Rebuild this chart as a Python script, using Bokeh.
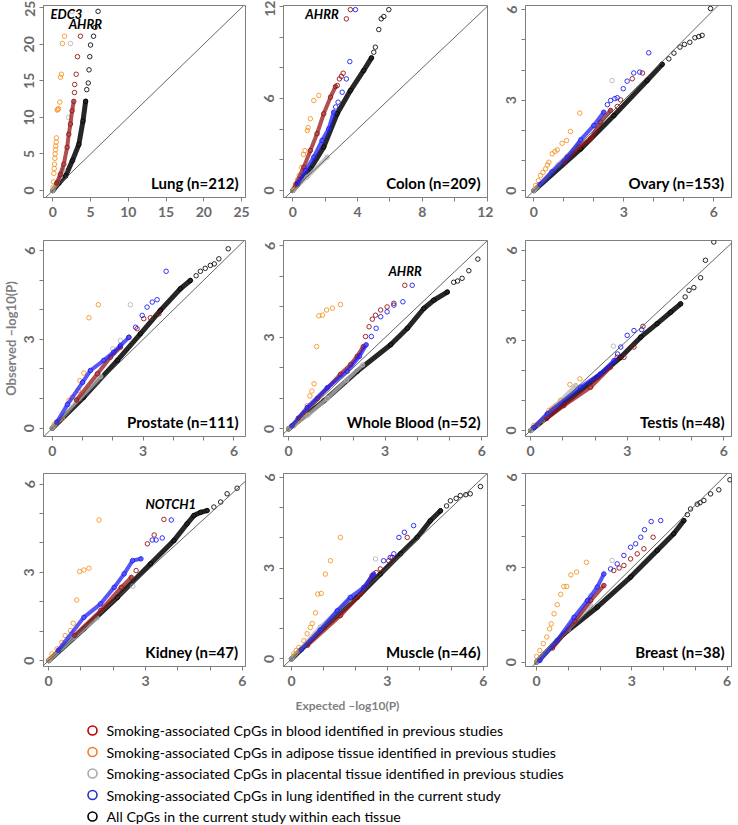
import math
from bokeh.plotting import figure
from bokeh.layouts import column, row
from bokeh.models import Range1d, FixedTicker, Label, Slope
from bokeh.embed import file_html
from bokeh.resources import INLINE
from bokeh.core.properties import value

# ---------------- data: (expected -log10 P, observed -log10 P) ----------------
# Lung
LUNG_BLACK_BAND = [(0, 0), (0.8, 1.0), (1.7, 2.0), (2.6, 4.1), (3.45, 6.3), (4.0, 9.5), (4.35, 12.2)]
LUNG_BLACK_PTS = [(4.5, 13.8), (4.7, 14.7), (4.8, 16.5), (4.9, 18.3), (5.0, 19.9), (5.4, 21.1), (5.6, 22.3), (6.0, 24.5)]
LUNG_GRAY_BAND = [(0, 0), (0.5, 0.9), (1.0, 1.9), (1.4, 2.8)]
LUNG_GRAY_PTS = [(2.1, 10.0), (2.34, 20.1), (2.56, 24.5)]
LUNG_ORANGE_PTS = [(0.05, 0.45), (0.1, 1.2), (0.14, 2.35), (0.2, 3.0), (0.23, 3.6), (0.28, 4.4), (0.31, 5.0),
                   (0.36, 5.6), (0.4, 6.1), (0.45, 6.6), (0.49, 7.2), (0.58, 11.0), (0.66, 11.1), (0.76, 11.2),
                   (0.93, 12.1), (1.02, 15.5), (1.15, 15.9), (1.28, 20.1), (1.55, 21.1)]
LUNG_RED_BAND = [(0.5, 1.0), (1.0, 2.2), (1.46, 3.6), (1.9, 5.9), (2.12, 7.7), (2.34, 9.1), (2.56, 10.9), (2.78, 12.2)]
LUNG_RED_PTS = [(2.87, 13.4), (2.9, 14.5), (3.1, 15.9), (3.27, 18.3), (3.66, 21.1)]
LUNG_BLUE_BAND = []
LUNG_BLUE_PTS = []

# Colon
COLON_BLACK_BAND = [(0, 0), (0.27, 0.33), (1.09, 1.41), (1.91, 2.83), (2.74, 5.0), (3.56, 6.52), (4.38, 7.83), (4.86, 8.65)]
COLON_BLACK_PTS = [(5.0, 9.02), (5.1, 9.35), (5.31, 10.5), (5.46, 11.2), (5.62, 11.35), (5.93, 11.8)]
COLON_GRAY_BAND = [(0, 0), (0.88, 0.87), (2.12, 2.17)]
COLON_GRAY_PTS = []
COLON_ORANGE_PTS = [(0.1, 0.2), (0.2, 0.43), (0.3, 0.7), (0.4, 0.98), (0.55, 1.5), (0.66, 2.35), (0.75, 2.6),
                    (0.9, 3.91), (0.95, 4.1), (1.09, 4.68), (1.3, 5.87), (1.61, 6.2)]
COLON_RED_BAND = [(0.2, 0.4), (0.68, 1.52), (1.09, 2.61), (1.5, 3.7), (1.91, 5.0), (2.33, 6.09), (2.64, 6.78)]
COLON_RED_PTS = [(2.75, 6.85), (2.88, 7.28), (3.0, 7.45), (3.11, 7.65), (3.31, 11.2), (3.56, 11.8)]
COLON_BLUE_BAND = [(0.3, 0.45), (0.8, 1.3), (1.3, 2.17), (1.81, 3.26), (2.22, 4.02), (2.53, 5.11)]
COLON_BLUE_PTS = [(2.65, 5.45), (2.8, 5.76), (3.05, 6.41), (3.31, 7.28), (3.52, 8.41), (3.87, 11.8)]

# Ovary
OVARY_BLACK_BAND = [(0, 0), (1.56, 1.38), (2.67, 2.49), (3.78, 3.65), (4.28, 4.19)]
OVARY_BLACK_PTS = [(4.5, 4.37), (4.67, 4.56), (4.87, 4.76), (5.02, 4.85), (5.2, 4.92), (5.37, 5.07), (5.5, 5.11),
                   (5.61, 5.15), (5.89, 6.04)]
OVARY_GRAY_BAND = [(0, 0), (0.8, 0.85), (1.5, 1.55)]
OVARY_GRAY_PTS = [(2.61, 3.65)]
OVARY_ORANGE_PTS = [(0.06, 0.17), (0.15, 0.33), (0.22, 0.5), (0.3, 0.6), (0.39, 0.72), (0.45, 0.85), (0.5, 0.94),
                    (0.61, 1.22), (0.7, 1.3), (0.78, 1.35), (0.94, 1.57), (1.09, 1.66), (1.22, 1.96), (1.53, 2.57)]
OVARY_RED_BAND = [(1.0, 0.95), (1.5, 1.45), (1.89, 1.72), (2.22, 2.27), (2.56, 2.66)]
OVARY_RED_PTS = [(2.78, 2.79), (2.89, 3.01), (3.28, 3.71), (3.62, 3.9)]
OVARY_BLUE_BAND = [(0.2, 0.2), (0.6, 0.62), (1.11, 1.11), (1.56, 1.68), (2.0, 2.16), (2.33, 2.6)]
OVARY_BLUE_PTS = [(2.45, 2.85), (2.56, 2.99), (2.7, 3.05), (2.78, 3.08), (2.98, 3.38), (3.11, 3.63), (3.33, 3.9),
                  (3.53, 3.93), (3.83, 4.57)]

# Prostate
PROSTATE_BLACK_BAND = [(0, 0), (1.04, 1.05), (2.15, 2.29), (2.91, 3.19), (3.57, 3.98), (4.23, 4.71), (4.56, 4.99)]
PROSTATE_BLACK_PTS = [(4.75, 5.15), (4.89, 5.3), (5.05, 5.4), (5.22, 5.5), (5.35, 5.55), (5.5, 5.72), (5.81, 6.06)]
PROSTATE_GRAY_BAND = [(0, 0), (0.9, 1.0), (1.6, 1.75)]
PROSTATE_GRAY_PTS = [(2.0, 2.68), (2.25, 2.96), (2.58, 4.17)]
PROSTATE_ORANGE_PTS = [(0.06, 0.13), (0.15, 0.22), (0.33, 0.32), (0.55, 0.94), (0.66, 1.05), (0.86, 1.27),
                       (0.91, 1.61), (1.04, 1.86), (1.21, 3.73), (1.52, 4.17)]
PROSTATE_RED_BAND = [(0.8, 0.95), (1.49, 1.84), (1.92, 2.4), (2.25, 2.74)]
PROSTATE_RED_PTS = [(2.53, 3.07), (2.8, 3.36), (3.02, 3.7), (3.24, 3.73), (3.52, 3.86)]
PROSTATE_BLUE_BAND = [(0.15, 0.2), (0.5, 0.8), (1.0, 1.55), (1.26, 1.95), (1.7, 2.29), (2.03, 2.57), (2.25, 2.79),
                      (2.53, 3.07)]
PROSTATE_BLUE_PTS = [(2.75, 3.41), (2.97, 3.81), (3.13, 4.09), (3.3, 4.26), (3.46, 4.34), (3.76, 5.3)]

# Whole Blood
BLOOD_BLACK_BAND = [(0, 0), (1.1, 0.92), (2.13, 1.89), (3.17, 2.76), (3.69, 3.3), (4.2, 3.95), (4.51, 4.22), (4.93, 4.49)]
BLOOD_BLACK_PTS = [(5.13, 4.81), (5.25, 4.85), (5.39, 4.94), (5.6, 5.19), (5.88, 5.57)]
BLOOD_GRAY_BAND = [(0, 0), (0.6, 0.45), (1.2, 1.0), (1.8, 1.6), (2.3, 2.1)]
BLOOD_GRAY_PTS = []
BLOOD_ORANGE_PTS = [(0.17, 0.11), (0.32, 0.32), (0.48, 0.51), (0.58, 0.76), (0.66, 1.08), (0.72, 1.24), (0.79, 1.48),
                    (0.87, 2.7), (0.94, 3.71), (1.05, 3.73), (1.18, 3.9), (1.36, 3.96), (1.61, 4.08)]
BLOOD_RED_BAND = [(0.3, 0.35), (0.9, 1.0), (1.61, 1.79), (1.93, 2.11), (2.13, 2.38), (2.32, 2.7)]
BLOOD_RED_PTS = [(2.39, 3.03), (2.5, 3.35), (2.6, 3.6), (2.7, 3.73), (2.86, 3.9), (3.06, 4.0), (3.27, 4.12), (3.61, 4.71)]
BLOOD_BLUE_BAND = [(0.1, 0.1), (0.58, 0.7), (1.2, 1.35), (1.82, 1.89), (2.2, 2.38), (2.41, 2.76)]
BLOOD_BLUE_PTS = [(2.57, 3.03), (2.72, 3.3), (2.86, 3.68), (3.06, 3.84), (3.27, 4.06), (3.55, 4.17), (3.84, 4.71)]

# Testis
TESTIS_BLACK_BAND = [(0, 0), (1.03, 0.89), (2.07, 1.78), (2.8, 2.44), (3.42, 3.11), (3.93, 3.56), (4.35, 3.94), (4.66, 4.22)]
TESTIS_BLACK_PTS = [(4.8, 4.45), (4.92, 4.67), (5.07, 4.76), (5.28, 5.09), (5.43, 5.67), (5.69, 6.28)]
TESTIS_GRAY_BAND = [(0, 0), (0.8, 0.85), (1.4, 1.5)]
TESTIS_GRAY_PTS = [(2.57, 2.81)]
TESTIS_ORANGE_PTS = [(0.1, 0.17), (0.2, 0.2), (0.36, 0.33), (0.5, 0.5), (0.57, 0.67), (0.65, 0.72), (0.72, 0.78),
                     (0.93, 1.0), (1.22, 1.53), (1.53, 1.72)]
TESTIS_RED_BAND = [(0.5, 0.4), (1.03, 0.83), (1.86, 1.44), (2.48, 2.11)]
TESTIS_RED_PTS = [(2.69, 2.44), (2.9, 2.44), (3.21, 2.78), (3.49, 3.47)]
TESTIS_BLUE_BAND = [(0.1, 0.1), (0.52, 0.56), (1.55, 1.44), (2.17, 1.89), (2.59, 2.33)]
TESTIS_BLUE_PTS = [(2.7, 2.55), (2.8, 2.78), (3.0, 3.17), (3.21, 3.33), (3.45, 3.36)]

# Kidney
KIDNEY_BLACK_BAND = [(0, 0), (1.09, 1.08), (2.13, 2.15), (3.16, 3.29), (3.88, 4.08), (4.29, 4.65), (4.5, 4.93),
                     (4.71, 5.04), (4.91, 5.1)]
KIDNEY_BLACK_PTS = [(5.12, 5.22), (5.33, 5.39), (5.53, 5.67), (5.84, 5.86)]
KIDNEY_GRAY_BAND = [(0, 0), (0.8, 0.8), (1.5, 1.45)]
KIDNEY_GRAY_PTS = [(2.61, 2.53)]
KIDNEY_ORANGE_PTS = [(0.03, 0.05), (0.1, 0.23), (0.26, 0.4), (0.41, 0.62), (0.51, 0.85), (0.68, 1.02), (0.76, 1.27),
                     (0.87, 2.06), (0.96, 3.03), (1.09, 3.08), (1.25, 3.14), (1.56, 4.78)]
KIDNEY_RED_BAND = [(0.8, 0.85), (1.61, 1.7), (2.25, 2.49), (2.56, 2.83)]
KIDNEY_RED_PTS = [(2.71, 3.06), (3.06, 3.97), (3.27, 4.27), (3.57, 4.8)]
KIDNEY_BLUE_BAND = [(0.3, 0.35), (1.09, 1.47), (1.61, 1.93), (2.03, 2.49), (2.34, 2.95), (2.6, 3.4), (2.86, 3.46)]
KIDNEY_BLUE_PTS = [(3.21, 4.1), (3.33, 4.1), (3.52, 4.17), (3.8, 4.78)]

# Muscle
MUSCLE_BLACK_BAND = [(0, 0), (1.01, 1.04), (2.05, 2.03), (2.78, 2.8), (3.41, 3.47), (3.93, 4.01), (4.34, 4.56), (4.66, 4.89)]
MUSCLE_BLACK_PTS = [(4.85, 5.05), (4.97, 5.22), (5.15, 5.3), (5.28, 5.39), (5.45, 5.42), (5.59, 5.45), (5.91, 5.69)]
MUSCLE_GRAY_BAND = [(0, 0), (0.9, 1.05), (1.8, 1.95)]
MUSCLE_GRAY_PTS = [(2.63, 3.3)]
MUSCLE_ORANGE_PTS = [(0.07, 0.17), (0.15, 0.28), (0.23, 0.38), (0.39, 0.6), (0.49, 0.83), (0.59, 1.04), (0.65, 1.17),
                     (0.75, 1.52), (0.82, 2.14), (0.93, 2.16), (1.06, 2.8), (1.22, 3.24), (1.53, 4.01)]
MUSCLE_RED_BAND = [(0.5, 0.45), (1.53, 1.43), (2.16, 2.14), (2.52, 2.75)]
MUSCLE_RED_PTS = [(2.65, 2.85), (2.78, 2.97), (3.04, 3.24), (3.15, 3.35), (3.62, 4.01)]
MUSCLE_BLUE_BAND = [(0.3, 0.3), (0.9, 0.95), (1.43, 1.59), (1.84, 2.03), (2.26, 2.36), (2.57, 2.8)]
MUSCLE_BLUE_PTS = [(2.88, 3.24), (3.09, 3.35), (3.2, 3.47), (3.36, 4.01), (3.53, 4.18), (3.82, 4.4)]

# Breast
BREAST_BLACK_BAND = [(0, 0), (0.86, 0.9), (1.91, 1.75), (2.96, 2.71), (3.8, 3.56), (4.32, 4.09), (4.64, 4.51)]
BREAST_BLACK_PTS = [(4.75, 4.7), (4.85, 4.88), (5.06, 5.03), (5.15, 5.08), (5.27, 5.15), (5.48, 5.36), (5.74, 5.49),
                    (6.09, 5.81)]
BREAST_GRAY_BAND = [(0, 0), (1.0, 1.05), (1.7, 1.8)]
BREAST_GRAY_PTS = [(1.7, 2.12), (2.38, 3.24)]
BREAST_ORANGE_PTS = [(0.0, 0.18), (0.1, 0.37), (0.21, 0.59), (0.32, 0.8), (0.41, 1.06), (0.46, 1.22), (0.55, 1.54),
                     (0.65, 1.83), (0.76, 2.16), (0.86, 2.41), (0.95, 2.41), (1.08, 2.78), (1.26, 2.87), (1.57, 3.18)]
BREAST_RED_BAND = [(0.5, 0.45), (1.2, 1.3), (1.7, 1.96), (2.12, 2.44)]
BREAST_RED_PTS = [(2.43, 2.92), (2.6, 3.0), (2.75, 3.08), (2.96, 3.29), (3.17, 3.45), (3.38, 3.61), (3.67, 3.98)]
BREAST_BLUE_BAND = [(0.1, 0.05), (0.65, 0.69), (1.18, 1.43), (1.6, 1.96), (1.91, 2.39), (2.12, 2.81)]
BREAST_BLUE_PTS = [(2.33, 2.97), (2.54, 3.13), (2.75, 3.4), (2.96, 3.66), (3.12, 3.77), (3.28, 3.98), (3.4, 4.22),
                   (3.61, 4.48), (3.91, 4.51)]

PANEL_TITLES = ["Lung (n=212)", "Colon (n=209)", "Ovary (n=153)",
                "Prostate (n=111)", "Whole Blood (n=52)", "Testis (n=48)",
                "Kidney (n=47)", "Muscle (n=46)", "Breast (n=38)"]

LUNG_TICKS = [0, 5, 10, 15, 20, 25]
COLON_TICKS = [0, 2, 4, 6, 8, 10, 12]
COLON_X_LABELED = [0, 4, 8, 12]
COLON_Y_LABELED = [0, 6, 12]
STD_TICKS = [0, 1, 2, 3, 4, 5, 6]
STD_LABELED = [0, 3, 6]

GENE_LABELS_LUNG = [("EDC3", -0.3, 24.2), ("AHRR", 2.1, 22.8)]
GENE_LABELS_COLON = [("AHRR", 0.78, 11.5)]
GENE_LABELS_BLOOD = [("AHRR", 3.1, 5.17)]
GENE_LABELS_KIDNEY = [("NOTCH1", 3.0, 5.34)]

LEGEND_LABELS = ["Smoking-associated CpGs in blood identified in previous studies",
                 "Smoking-associated CpGs in adipose tissue identified in previous studies",
                 "Smoking-associated CpGs in placental tissue identified in previous studies",
                 "Smoking-associated CpGs in lung identified in the current study",
                 "All CpGs in the current study within each tissue"]
LEGEND_COLORS = ["#C00000", "#F07D2A", "#ABABAB", "#2233CC", "#000000"]

X_TITLE = "Expected \u2013log10(P)"
Y_TITLE = "Observed \u2013log10(P)"

# ---------------- style / layout ----------------
C_BLACK = "#000000"
C_GRAY = "#B4B4B4"
C_ORANGE = "#F5901E"
C_RED = "#951515"
C_BLUE = "#1F1FF5"
AX_COL = "#7F7F7F"
LBL_COL = "#6A6A6A"
FONT = "Lato"

STRIP_W = 18
COL_LEFT = [25, 32, 32]
COL_FRAME_W = [202, 204, 206]
RIGHT_B = 6
ROW_TOP = [5, 0, 0]
ROW_FRAME_H = [192, 196, 193]
ROW_BOTTOM = [43, 37, 27]


def series(prefix):
    g = globals()
    return dict(
        black=(g[prefix + "_BLACK_BAND"], g[prefix + "_BLACK_PTS"]),
        gray=(g[prefix + "_GRAY_BAND"], g[prefix + "_GRAY_PTS"]),
        orange=([], g[prefix + "_ORANGE_PTS"]),
        red=(g[prefix + "_RED_BAND"], g[prefix + "_RED_PTS"]),
        blue=(g[prefix + "_BLUE_BAND"], g[prefix + "_BLUE_PTS"]),
    )


PANELS = [
    dict(pre="LUNG", xr=(-1.23, 25.53), yr=(-0.95, 25.3), xt=LUNG_TICKS, xl=LUNG_TICKS, yt=LUNG_TICKS, yl=LUNG_TICKS, genes=GENE_LABELS_LUNG),
    dict(pre="COLON", xr=(-0.57, 12.02), yr=(-0.46, 12.07), xt=COLON_TICKS, xl=COLON_X_LABELED, yt=COLON_TICKS, yl=COLON_Y_LABELED, genes=GENE_LABELS_COLON),
    dict(pre="OVARY", xr=(-0.28, 6.59), yr=(-0.23, 6.14), xt=STD_TICKS, xl=STD_LABELED, yt=STD_TICKS, yl=STD_LABELED, genes=[]),
    dict(pre="PROSTATE", xr=(-0.29, 6.38), yr=(-0.28, 6.34), xt=STD_TICKS, xl=STD_LABELED, yt=STD_TICKS, yl=STD_LABELED, genes=[]),
    dict(pre="BLOOD", xr=(-0.16, 6.18), yr=(-0.25, 6.18), xt=STD_TICKS, xl=STD_LABELED, yt=STD_TICKS, yl=STD_LABELED, genes=GENE_LABELS_BLOOD),
    dict(pre="TESTIS", xr=(-0.16, 6.24), yr=(-0.2, 6.33), xt=STD_TICKS, xl=STD_LABELED, yt=STD_TICKS, yl=STD_LABELED, genes=[]),
    dict(pre="KIDNEY", xr=(-0.16, 6.1), yr=(-0.2, 6.36), xt=STD_TICKS, xl=STD_LABELED, yt=STD_TICKS, yl=STD_LABELED, genes=GENE_LABELS_KIDNEY),
    dict(pre="MUSCLE", xr=(-0.25, 6.13), yr=(-0.25, 6.12), xt=STD_TICKS, xl=STD_LABELED, yt=STD_TICKS, yl=STD_LABELED, genes=[]),
    dict(pre="BREAST", xr=(-0.35, 6.14), yr=(-0.14, 6.01), xt=STD_TICKS, xl=STD_LABELED, yt=STD_TICKS, yl=STD_LABELED, genes=[]),
]

# colour, band line width, band alpha, marker alpha
STYLE = dict(
    black=(C_BLACK, 5.0, 0.85, 0.85),
    gray=(C_GRAY, 4.0, 0.75, 0.85),
    orange=(C_ORANGE, 0, 0.0, 0.85),
    red=(C_RED, 4.0, 0.75, 0.9),
    blue=(C_BLUE, 4.0, 0.75, 0.9),
)


def style_axis(ax, ticks, labeled):
    ax.ticker = FixedTicker(ticks=ticks)
    ax.major_label_overrides = {t: "" for t in ticks if t not in labeled}
    ax.axis_line_color = AX_COL
    ax.major_tick_line_color = AX_COL
    ax.major_tick_out = 4
    ax.major_tick_in = 0
    ax.minor_tick_line_color = None
    ax.major_label_text_font = FONT
    ax.major_label_text_font_size = "14px"
    ax.major_label_text_font_style = "bold"
    ax.major_label_text_color = LBL_COL
    ax.major_label_standoff = 5


def make_panel(i):
    spec = PANELS[i]
    col, rw = i % 3, i // 3
    left, fw = COL_LEFT[col], COL_FRAME_W[col]
    top, fh, bottom = ROW_TOP[rw], ROW_FRAME_H[rw], ROW_BOTTOM[rw]
    p = figure(width=left + fw + RIGHT_B, height=top + fh + bottom,
               x_range=Range1d(*spec["xr"]), y_range=Range1d(*spec["yr"]),
               output_backend="svg", toolbar_location=None,
               min_border_left=left, min_border_right=RIGHT_B,
               min_border_top=top, min_border_bottom=bottom)
    p.xgrid.visible = False
    p.ygrid.visible = False
    p.outline_line_color = AX_COL
    p.outline_line_width = 1
    p.background_fill_color = "white"
    p.border_fill_color = "white"
    style_axis(p.xaxis[0], spec["xt"], spec["xl"])
    style_axis(p.yaxis[0], spec["yt"], spec["yl"])
    p.yaxis[0].major_label_orientation = "vertical"

    p.add_layout(Slope(gradient=1, y_intercept=0, line_color="#555555", line_width=0.9))

    ser = series(spec["pre"])
    for key in ["black", "gray", "orange", "red", "blue"]:
        band, pts = ser[key]
        color, lw, balpha, malpha = STYLE[key]
        if band:
            bx = [a for a, b in band]
            by = [b for a, b in band]
            p.line(bx, by, line_color=color, line_width=lw, line_alpha=balpha,
                   line_cap="round", line_join="round")
            p.scatter(bx, by, marker="circle", size=4.5, fill_color=None,
                      line_color=color, line_width=1, line_alpha=malpha)
        if pts:
            p.scatter([a for a, b in pts], [b for a, b in pts], marker="circle", size=4.5,
                      fill_color=None, line_color=color, line_width=1, line_alpha=malpha)

    for txt, gx, gy in spec["genes"]:
        p.add_layout(Label(x=gx, y=gy, text=txt, text_font=FONT, text_font_size="13px",
                           text_font_style="bold italic", text_color="black",
                           text_align="left", text_baseline="middle"))

    p.add_layout(Label(x=spec["xr"][1], y=spec["yr"][0], x_offset=-7, y_offset=6,
                       text=PANEL_TITLES[i], text_font=FONT, text_font_size="15px",
                       text_font_style="bold", text_color="black",
                       text_align="right", text_baseline="bottom"))
    return p


figs = [make_panel(i) for i in range(9)]
grid = column([row(figs[3 * r:3 * r + 3], spacing=0) for r in range(3)], spacing=0)

# strip holding the shared y-axis title
GRID_H = sum(ROW_TOP) + sum(ROW_FRAME_H) + sum(ROW_BOTTOM)
strip = figure(width=STRIP_W, height=GRID_H, x_range=Range1d(0, STRIP_W), y_range=Range1d(GRID_H, 0),
               output_backend="svg", toolbar_location=None, x_axis_type=None, y_axis_type=None,
               min_border_left=0, min_border_right=0, min_border_top=0, min_border_bottom=0)
strip.xgrid.visible = False
strip.ygrid.visible = False
strip.outline_line_color = None
row2_mid = ROW_TOP[0] + ROW_FRAME_H[0] + ROW_BOTTOM[0] + ROW_FRAME_H[1] / 2
strip.text(x=[10], y=[row2_mid], text=[Y_TITLE], angle=math.pi / 2, text_font=value(FONT),
           text_font_size="13px", text_font_style="bold", text_color=AX_COL,
           text_align="center", text_baseline="middle")

# legend / x-axis title strip
LEG_W, LEG_H = 738, 825 - GRID_H
lg = figure(width=LEG_W, height=LEG_H, x_range=Range1d(0, LEG_W), y_range=Range1d(LEG_H, 0),
            output_backend="svg", toolbar_location=None, x_axis_type=None, y_axis_type=None,
            min_border_left=0, min_border_right=0, min_border_top=0, min_border_bottom=0)
lg.xgrid.visible = False
lg.ygrid.visible = False
lg.outline_line_color = None
lg.text(x=[347], y=[12], text=[X_TITLE], text_font=value(FONT),
        text_font_size="12px", text_font_style="bold", text_color=AX_COL,
        text_align="center", text_baseline="middle")
leg_y = [37 + 21.5 * k for k in range(len(LEGEND_LABELS))]
lg.scatter(x=[92] * len(LEGEND_LABELS), y=leg_y, marker="circle", size=9, fill_color=None,
           line_color=LEGEND_COLORS, line_width=1.6)
lg.text(x=[106] * len(LEGEND_LABELS), y=leg_y, text=LEGEND_LABELS, text_font=value(FONT),
        text_font_size="14.2px", text_color="black", text_align="left", text_baseline="middle")

layout = column(row(strip, grid, spacing=0), lg, spacing=0)

open("out.html", "w").write(file_html(layout, INLINE))
